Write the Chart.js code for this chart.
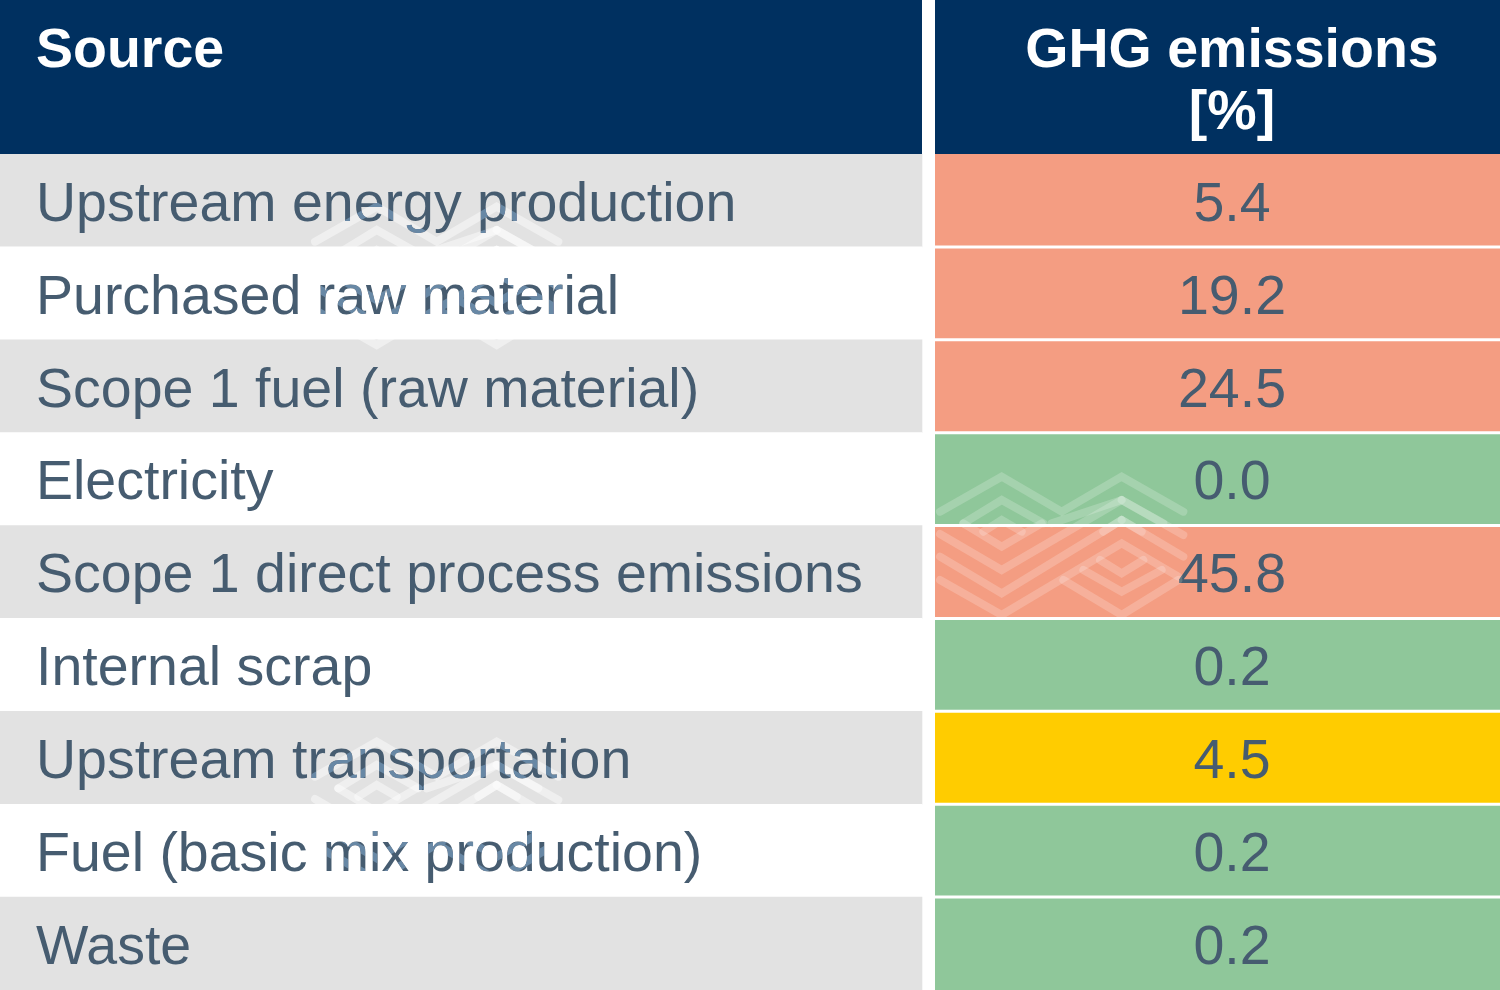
<!DOCTYPE html>
<html><head><meta charset="utf-8">
<style>html,body{margin:0;padding:0;background:#fff}canvas{display:block}</style>
<script src="https://cdn.jsdelivr.net/npm/chart.js@4"></script></head>
<body><canvas id="c" width="1500" height="990"></canvas>
<script>
const sources = ["Upstream energy production","Purchased raw material","Scope 1 fuel (raw material)","Electricity","Scope 1 direct process emissions","Internal scrap","Upstream transportation","Fuel (basic mix production)","Waste"];
const emissions = [5.4,19.2,24.5,0.0,45.8,0.2,4.5,0.2,0.2];
const levels = ["high","high","high","low","high","low","mid","low","low"];
const headerSource = ["Source"];
const headerValue = ["GHG emissions","[%]"];
const levelColors = {high:"#f49d82",mid:"#ffcc00",low:"#8fc79a"};
const FONT = '"Liberation Sans", Arial, sans-serif';
const INK = "#465c70";
const FS = 55.5;
const COL1 = [0,922], COL2 = [935,1500], TEXTX2 = 1232;
const wm = [
 [[60,155],[245,50],[425,155],[605,50],[790,155]],
 [[130,190],[245,120],[370,190]],[[395,190],[605,120],[730,190]],
 [[190,215],[245,180],[305,215]],[[550,215],[605,180],[665,215]],
 [[130,190],[245,260],[365,190]],
 [[60,222],[245,330],[605,120]],
 [[60,290],[245,400],[605,180]],
 [[60,360],[245,465],[605,250],[775,350]],
 [[430,360],[605,465],[775,360]],
 [[490,330],[605,395],[725,330]],
 [[540,300],[605,340],[670,300]],
 [[605,120],[790,225]],[[605,180],[790,290]]
];
const marks = [
 {dx:-625,dy:-270,a:.45,tint:"#6888a5",clip:[154,990]},
 {dx:0,dy:0,a:.2,tint:"#657882",clip:[154,617]},
 {dx:-625,dy:265,a:.45,tint:"#6888a5",clip:[154,897]}
];
function strokeMark(ctx,m,style){
  ctx.save();
  ctx.beginPath();ctx.rect(0,m.clip[0],1500,m.clip[1]-m.clip[0]);ctx.clip();
  ctx.strokeStyle=style;ctx.lineWidth=8;ctx.lineCap="round";ctx.lineJoin="miter";
  for(const p of wm){ctx.beginPath();p.forEach(([x,y],i)=>{const X=920+x/3+m.dx,Y=460+y/3+m.dy;i?ctx.lineTo(X,Y):ctx.moveTo(X,Y)});ctx.stroke();}
  ctx.restore();
}
const tablePlugin={id:"table",
 beforeDraw(ch){const c=ch.ctx;c.save();c.fillStyle="#fff";c.fillRect(0,0,ch.width,ch.height);c.restore();},
 beforeDatasetsDraw(ch){
  const c=ch.ctx,x=ch.scales.x,a=ch.chartArea;c.save();c.fillStyle="#003060";
  const l1=x.getPixelForValue(COL1[0]),r1=x.getPixelForValue(COL1[1]),l2=x.getPixelForValue(COL2[0]),r2=x.getPixelForValue(COL2[1]);
  c.fillRect(l1,0,r1-l1,a.top);
  c.fillRect(l2,0,r2-l2,a.top);
  c.fillStyle=levelColors[levels[0]];c.fillRect(l2,a.top,r2-l2,4);
  c.fillStyle=levelColors[levels[levels.length-1]];c.fillRect(l2,a.bottom-4,r2-l2,4);
  c.restore();
 },
 afterDatasetsDraw(ch){
  marks.forEach(m=>strokeMark(ch.ctx,m,`rgba(255,255,255,${m.a})`));
 },
 afterDraw(ch){
  const c=ch.ctx,x=ch.scales.x,y=ch.scales.y;
  const cx=x.getPixelForValue(TEXTX2);
  c.save();
  c.fillStyle=INK;c.font=FS+"px "+FONT;c.textAlign="center";c.textBaseline="middle";
  emissions.forEach((v,i)=>c.fillText(v.toFixed(1),cx,y.getPixelForValue(i)+5));
  c.fillStyle="#fff";c.font="bold "+FS+"px "+FONT;c.textBaseline="alphabetic";
  c.textAlign="left";c.fillText(headerSource[0],36,67);
  c.textAlign="center";c.fillText(headerValue[0],cx,67);c.fillText(headerValue[1],cx,129);
  c.restore();
  c.save();
  c.globalCompositeOperation="lighten";
  marks.forEach(m=>strokeMark(c,m,m.tint));
  c.restore();
 }};
new Chart(document.getElementById("c"),{
 type:"bar",
 data:{labels:sources,datasets:[
  {label:"Source",data:sources.map(()=>COL1),backgroundColor:sources.map((_,i)=>i%2?"#ffffff":"#e2e2e2"),barPercentage:1,categoryPercentage:1,grouped:false},
  {label:"GHG emissions [%]",data:sources.map(()=>COL2),backgroundColor:levels.map(l=>levelColors[l]),barPercentage:.968,categoryPercentage:1,grouped:false}
 ]},
 options:{indexAxis:"y",responsive:false,animation:false,devicePixelRatio:1,
  layout:{padding:{top:154,left:0,right:0,bottom:0}},
  plugins:{legend:{display:false},title:{display:false},tooltip:{enabled:false}},
  scales:{
   x:{type:"linear",min:0,max:1500,display:false,afterFit(s){s.height=0;s.paddingLeft=s.paddingRight=0}},
   y:{offset:true,border:{display:false},grid:{display:false,drawTicks:false},
      afterFit(s){s.width=0;s.paddingTop=s.paddingBottom=0;},
      ticks:{mirror:true,padding:36,labelOffset:5,z:1,autoSkip:false,color:INK,font:{family:FONT,size:FS}}}
  }},
 plugins:[tablePlugin]
});
</script></body></html>
